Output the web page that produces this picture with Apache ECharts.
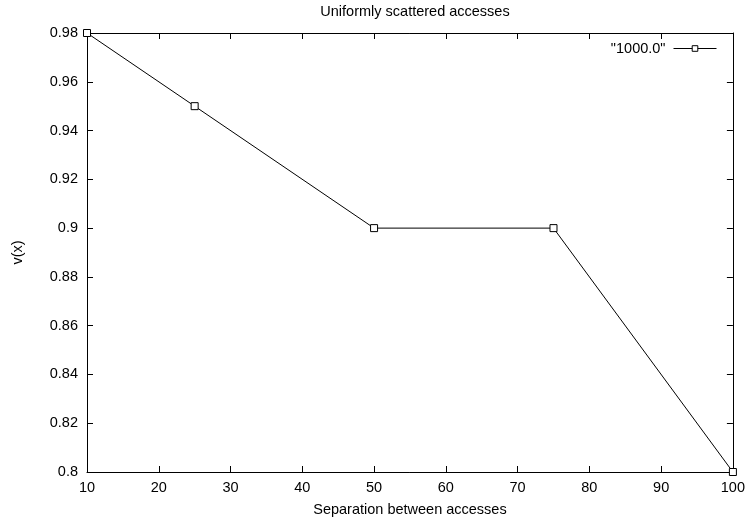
<!DOCTYPE html>
<html><head><meta charset="utf-8">
<script src="https://cdn.jsdelivr.net/npm/echarts@6/dist/echarts.min.js"></script>
<style>html,body{margin:0;padding:0;background:#fff}#c{width:748px;height:522px}</style>
</head><body><div id="c"></div>
<script>
const xValues = [10, 25, 50, 75, 100];
const yValues = [0.98, 0.95, 0.9, 0.9, 0.8];
const seriesName = '"1000.0"';
const titleText = 'Uniformly scattered accesses';
const xName = 'Separation between accesses';
const yName = 'v(x)';

const font = 'Liberation Sans, Arial, Helvetica, sans-serif';
const fs = 14.5;
const chart = echarts.init(document.getElementById('c'));
const fmtY = v => String(Math.round(v * 100) / 100);
const axisCommon = {
  axisLine: {show: true, onZero: false, lineStyle: {color: '#000', width: 1}},
  axisTick: {show: true, inside: true, length: 6, lineStyle: {color: '#000'}},
  splitLine: {show: false}
};
chart.setOption({
  animation: false,
  backgroundColor: '#fff',
  title: {text: titleText, left: 410, textAlign: 'center', top: -1, textStyle: {fontFamily: font, fontSize: fs, fontWeight: 'normal', color: '#000'}},
  grid: {left: 87, right: 14, top: 33, bottom: 49, show: false},
  legend: {
    data: [seriesName], right: 26, top: 36, align: 'right', itemWidth: 43, itemHeight: 7, itemGap: 0,
    lineStyle: {width: 1, color: '#000'},
    itemStyle: {color: '#fff', borderColor: '#000', borderWidth: 1},
    textStyle: {fontFamily: font, fontSize: fs, color: '#000', padding: [0, 3, 0, 0]}
  },
  xAxis: [
    Object.assign({type: 'value', min: 10, max: 100, interval: 10, position: 'bottom',
      name: xName, nameLocation: 'middle', nameGap: 30,
      nameTextStyle: {fontFamily: font, fontSize: fs, color: '#000'},
      axisLabel: {fontFamily: font, fontSize: fs, color: '#000', margin: 8}}, axisCommon),
    Object.assign({type: 'value', min: 10, max: 100, interval: 10, position: 'top',
      axisLabel: {show: false}}, axisCommon)
  ],
  yAxis: [
    Object.assign({type: 'value', min: 0.8, max: 0.98, interval: 0.02, position: 'left',
      name: yName, nameLocation: 'middle', nameGap: 62, nameRotate: 90,
      nameTextStyle: {fontFamily: font, fontSize: fs, color: '#000'},
      axisLabel: {fontFamily: font, fontSize: fs, color: '#000', margin: 9, formatter: fmtY}}, axisCommon),
    Object.assign({type: 'value', min: 0.8, max: 0.98, interval: 0.02, position: 'right',
      axisLabel: {show: false}}, axisCommon)
  ],
  series: [{
    name: seriesName, type: 'line', xAxisIndex: 0, yAxisIndex: 0,
    data: xValues.map((x, i) => [x, yValues[i]]),
    symbol: 'rect', symbolSize: 7, showSymbol: true,
    lineStyle: {color: '#000', width: 1},
    itemStyle: {color: '#fff', borderColor: '#000', borderWidth: 1}
  }]
});
</script></body></html>
